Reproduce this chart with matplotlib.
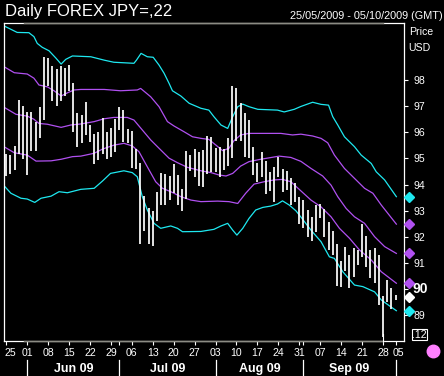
import matplotlib
matplotlib.use("Agg")
import matplotlib.pyplot as plt
from matplotlib.transforms import blended_transform_factory
from matplotlib.lines import Line2D
from matplotlib.patches import Rectangle
import pandas as pd

plt.rcParams['font.family'] = ['Liberation Sans', 'DejaVu Sans']

# ---------------- data ----------------
start_date = '2009-05-25'

highs = [95.17, 95.14, 95.48, 97.24, 97.01, 96.78, 96.78, 96.39, 96.97, 98.89,
         98.84, 98.54, 98.42, 98.54, 98.46, 98.59, 97.90, 96.75, 96.66, 97.16,
         96.29, 95.93, 96.01, 96.55, 96.01, 96.16, 96.52, 96.96, 96.85, 96.14,
         96.05, 95.37, 94.81, 93.56, 93.12, 93.00, 93.71, 94.43, 94.41, 94.33,
         94.79, 94.37, 93.82, 95.28, 95.13, 95.36, 95.24, 95.32, 95.86, 95.81,
         95.41, 95.45, 95.36, 95.78, 97.77, 97.68, 97.11, 96.73, 96.47, 95.43,
         94.81, 95.24, 94.91, 94.49, 94.66, 95.07, 94.59, 94.53, 94.24, 94.05,
         93.54, 93.41, 93.03, 92.77, 93.22, 93.26, 93.07, 92.58, 92.24, 91.73,
         91.09, 91.60, 91.31, 91.56, 91.50, 92.49, 92.03, 91.50, 91.56, 91.31,
         89.74, 90.35, 90.03, 89.78]

lows = [94.33, 94.41, 94.56, 95.17, 94.98, 94.37, 95.28, 95.28, 95.78, 96.47,
        97.77, 97.20, 97.01, 97.20, 97.39, 97.58, 96.02, 95.45, 95.59, 95.90,
        95.64, 94.80, 94.94, 95.18, 94.99, 95.06, 95.25, 96.09, 95.63, 95.59,
        94.62, 94.61, 91.72, 92.24, 91.72, 91.65, 92.62, 93.21, 93.21, 93.41,
        93.67, 93.21, 93.00, 93.45, 94.53, 94.30, 93.96, 93.92, 94.41, 94.49,
        94.49, 94.30, 94.56, 94.71, 95.01, 95.68, 95.68, 95.07, 95.01, 94.36,
        94.11, 94.28, 93.63, 93.77, 93.35, 94.30, 93.73, 93.79, 93.22, 93.35,
        92.49, 92.33, 92.01, 91.85, 92.20, 92.73, 91.98, 91.50, 91.31, 90.13,
        90.10, 90.71, 90.03, 90.46, 90.93, 91.22, 90.86, 90.42, 90.25, 89.40,
        88.16, 89.52, 89.25, 89.59]

# bands: (bar index, price)
upper_outer = [(-0.55, 100.07), (1.1, 99.94), (2.6, 99.82), (5.4, 99.81), (6.6, 99.66),
               (7.4, 99.40), (8.6, 99.25), (10.2, 99.12), (11.9, 98.83), (13.1, 98.61),
               (14.2, 98.79), (15.8, 98.92), (20.2, 98.89), (23.4, 98.76), (25.7, 98.68),
               (30.5, 98.64), (31.1, 98.76), (32.2, 99.02), (33.7, 98.89), (35.1, 98.87),
               (36.5, 98.57), (37.7, 98.26), (38.9, 97.87), (39.7, 97.59), (41.7, 97.39),
               (43.7, 97.11), (46.5, 96.92), (48.4, 96.85), (49.6, 96.60), (51.3, 96.28),
               (52.9, 96.15), (54.1, 96.60), (55.3, 96.98), (56.5, 97.08), (58.0, 96.98),
               (60.1, 96.88), (64.8, 96.85), (66.4, 96.78), (68.8, 96.88), (70.4, 96.99),
               (73.2, 97.15), (75.2, 97.07), (77.0, 97.04), (78.0, 96.60), (79.2, 96.28),
               (80.8, 95.83), (83.2, 95.45), (84.8, 95.13), (87.2, 94.81), (88.4, 94.49),
               (90.4, 94.18), (93.2, 93.54)]

upper_inner = [(-0.55, 98.51), (1.9, 98.28), (5.0, 98.23), (6.6, 98.07), (7.8, 97.81),
               (9.8, 97.74), (11.4, 97.59), (13.1, 97.39), (14.6, 97.51), (16.2, 97.62),
               (17.8, 97.64), (23.4, 97.64), (27.3, 97.59), (31.3, 97.62), (32.1, 97.68),
               (34.5, 97.36), (36.5, 96.98), (38.5, 96.41), (40.1, 96.24), (42.5, 96.02),
               (44.5, 95.83), (46.5, 95.77), (48.4, 95.73), (50.1, 95.51), (51.7, 95.30),
               (53.2, 95.39), (54.4, 95.68), (56.0, 95.90), (58.0, 95.96), (65.6, 95.96),
               (68.4, 95.90), (70.4, 95.93), (73.2, 95.86), (75.2, 95.77), (76.8, 95.60),
               (78.4, 95.13), (80.8, 94.62), (83.2, 94.24), (85.6, 93.86), (87.6, 93.67),
               (89.6, 93.22), (93.2, 92.49)]

middle = [(-0.55, 96.96), (2.3, 96.69), (5.0, 96.62), (6.6, 96.50), (7.8, 96.34),
          (9.8, 96.31), (13.1, 96.19), (15.4, 96.28), (17.8, 96.32), (21.0, 96.41),
          (23.4, 96.52), (25.7, 96.57), (28.9, 96.57), (30.5, 96.47), (32.5, 96.09),
          (34.5, 95.71), (36.5, 95.39), (38.9, 95.01), (40.9, 94.84), (43.3, 94.66),
          (46.5, 94.53), (48.9, 94.46), (50.8, 94.37), (52.5, 94.33), (54.1, 94.43),
          (56.0, 94.71), (58.0, 94.88), (60.8, 94.97), (65.2, 95.09), (68.0, 95.04),
          (70.4, 94.89), (72.8, 94.62), (75.6, 94.33), (77.6, 93.98), (79.2, 93.54),
          (81.2, 93.09), (83.2, 92.77), (85.6, 92.52), (88.0, 92.01), (90.4, 91.63),
          (93.2, 91.37)]

lower_inner = [(-0.55, 95.45), (1.9, 95.22), (5.0, 95.13), (7.1, 94.90), (10.7, 94.91),
               (13.1, 94.97), (15.8, 95.07), (17.8, 95.09), (21.0, 95.20), (23.0, 95.36),
               (25.7, 95.51), (28.1, 95.58), (30.1, 95.48), (31.7, 95.26), (33.7, 94.68),
               (35.7, 94.11), (37.3, 93.86), (39.3, 93.73), (41.7, 93.54), (44.1, 93.41),
               (46.5, 93.35), (50.5, 93.37), (53.2, 93.35), (55.3, 93.28), (57.2, 93.67),
               (59.2, 94.02), (61.6, 94.11), (64.0, 94.18), (66.0, 94.20), (68.0, 94.11),
               (70.4, 93.76), (72.8, 93.41), (75.2, 93.15), (77.6, 92.77), (79.6, 92.33),
               (82.0, 91.95), (84.4, 91.50), (87.2, 91.12), (89.6, 90.67), (93.2, 90.23)]

lower_outer = [(-0.55, 93.96), (1.1, 93.67), (3.5, 93.48), (5.0, 93.45), (6.8, 93.32),
               (8.3, 93.48), (10.7, 93.56), (12.6, 93.73), (14.6, 93.69), (17.8, 93.82),
               (21.0, 93.86), (23.0, 94.14), (24.9, 94.43), (28.1, 94.53), (30.1, 94.46),
               (31.3, 94.30), (32.5, 93.54), (33.7, 93.03), (35.3, 92.52), (36.9, 92.33),
               (39.3, 92.42), (40.9, 92.33), (42.1, 92.20), (46.5, 92.21), (49.6, 92.29),
               (51.3, 92.42), (52.9, 92.52), (54.1, 92.26), (55.1, 92.07), (56.5, 92.33),
               (58.0, 92.71), (59.6, 93.03), (61.3, 93.13), (63.2, 93.18), (64.8, 93.26),
               (66.0, 93.38), (67.6, 93.22), (69.2, 93.00), (70.4, 92.76), (72.8, 92.26),
               (75.2, 91.82), (77.2, 91.24), (78.4, 91.18), (80.4, 90.67), (83.2, 90.16),
               (85.2, 90.10), (88.0, 89.90), (89.6, 89.59), (91.6, 89.36), (93.2, 89.18)]

last_close = 89.70

day_labels = ['25', '01', '08', '15', '22', '29', '06', '13', '20', '27', '03',
              '10', '17', '24', '31', '07', '14', '21', '28', '05']
month_labels = ['Jun 09', 'Jul 09', 'Aug 09', 'Sep 09']
price_ticks = [89, 90, 91, 92, 93, 94, 95, 96, 97, 98]

# ---------------- style ----------------
W, H = 444, 376
CYAN = '#1ee8f0'
PURPLE = '#b050f0'
GREY = '#8c8c84'
PINK = '#ff80ff'


def fy(py):
    return 1 - py / H


fig = plt.figure(figsize=(W / 100, H / 100), dpi=100, facecolor='black')
ax = fig.add_axes([4 / W, fy(340.5), 400 / W, 318 / H], facecolor='black')

xs = list(range(len(highs)))
ax.vlines(xs, lows, highs, colors='white', lw=1.25, zorder=3)

for band, col in [(upper_outer, CYAN), (upper_inner, PURPLE), (middle, PURPLE),
                  (lower_inner, PURPLE), (lower_outer, CYAN)]:
    bx, by = zip(*band)
    ax.plot(bx, by, color=col, lw=0.9, zorder=2)

ax.set_xlim(-0.55, 95.03)
ax.set_ylim(88.04, 100.2)

for s in ax.spines.values():
    s.set_color('white')
    s.set_linewidth(0.9)

# scroll-window grey segments on top and bottom border
for yy in (0, 1):
    ax.plot([20 / 400, 379 / 400], [yy, yy], transform=ax.transAxes, color=GREY,
            lw=1.0, clip_on=False, zorder=6)
ax.plot([379 / 400, 379 / 400], [0, 6.5 / 318], transform=ax.transAxes,
        color='white', lw=0.8, clip_on=False, zorder=6)

# x axis ticks
dates = pd.bdate_range(start_date, periods=len(highs))
mondays = [i for i, d in enumerate(dates) if d.weekday() == 0]
month_starts = [i for i in range(1, len(dates)) if dates[i].month != dates[i - 1].month]
ax.set_xticks(sorted(set(mondays + month_starts)))
ax.tick_params(axis='x', colors='white', direction='out', length=3, width=0.8,
               labelbottom=False)

# y axis on right
ax.yaxis.tick_right()
ax.set_yticks(price_ticks)
ax.set_yticklabels(['' if t == 90 else str(t) for t in price_ticks])
ax.tick_params(axis='y', colors='white', direction='out', length=3, width=0.8,
               pad=3.5, labelsize=7.6, labelcolor='white')

tr_xd_yf = blended_transform_factory(ax.transData, fig.transFigure)
tr_xa_yd = blended_transform_factory(ax.transAxes, ax.transData)

# day labels
label_pos = mondays + [len(highs) - 1]
xmin, xmax = ax.get_xlim()
for k, (lab, pos) in enumerate(zip(day_labels, label_pos)):
    if k == 0:
        ax.text(xmin, fy(355.5), lab, transform=tr_xd_yf, ha='left', va='baseline',
                color='white', fontsize=7.6)
    elif k == len(day_labels) - 1:
        ax.text(xmax, fy(355.5), lab, transform=tr_xd_yf, ha='right', va='baseline',
                color='white', fontsize=7.6)
    else:
        ax.text(pos, fy(355.5), lab, transform=tr_xd_yf, ha='center', va='baseline',
                color='white', fontsize=7.6)

# month separators and labels
for m in month_starts:
    ax.add_line(Line2D([m, m], [fy(360), fy(374.5)], transform=tr_xd_yf,
                       color='white', lw=0.9, clip_on=False))
for lab, a, b in zip(month_labels, month_starts[:-1], month_starts[1:]):
    ax.text((a + b) / 2, fy(371.6), lab, transform=tr_xd_yf, ha='center',
            va='baseline', color='white', fontsize=9, fontweight='bold')

# highlighted price label
ax.text(1 + 8 / 400, 90, '90', transform=tr_xa_yd, ha='left', va='center',
        color='white', fontsize=10, fontweight='bold')

# last-value diamonds
for val, col in [(upper_outer[-1][1], CYAN), (upper_inner[-1][1], PURPLE),
                 (middle[-1][1], PURPLE), (lower_inner[-1][1], PURPLE),
                 (last_close, 'white'), (lower_outer[-1][1], CYAN)]:
    ax.plot([1 + 5.3 / 400], [val], transform=tr_xa_yd, marker='D', ms=5.6,
            color=col, ls='none', clip_on=False, zorder=7)

# texts
fig.text(5 / W, fy(16), 'Daily FOREX JPY=,22', color='white', fontsize=12,
         va='baseline', ha='left')
fig.text(443 / W, fy(19.3), '25/05/2009 - 05/10/2009 (GMT)', color='white',
         fontsize=7.8, va='baseline', ha='right')
fig.text(408.7 / W, fy(32), 'Price', color='white', fontsize=7.6, va='center', ha='left')
fig.text(408.7 / W, fy(48), 'USD', color='white', fontsize=7.6, va='center', ha='left')

fig.add_artist(Rectangle((411.7 / W, fy(340)), 15.3 / W, 11 / H, transform=fig.transFigure,
                         facecolor='black', edgecolor='white', lw=0.8))
fig.text(419.5 / W, fy(334.8), '.12', color='white', fontsize=7.6, va='center', ha='center')

fig.add_artist(Line2D([433 / W], [fy(351)], marker='o', ms=9, color=PINK,
                      ls='none', transform=fig.transFigure))

fig.savefig('out.png', dpi=100, facecolor='black')
